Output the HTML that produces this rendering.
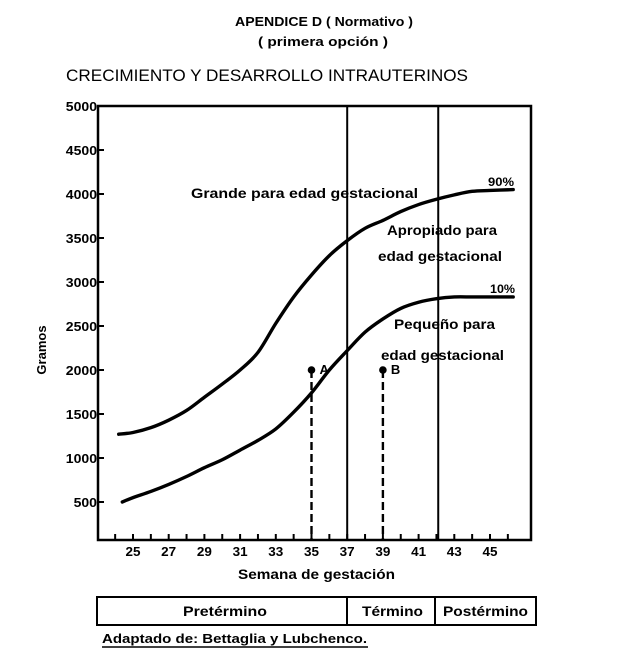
<!DOCTYPE html>
<html><head><meta charset="utf-8"><style>
body{margin:0;background:#fff;}
svg text{font-family:"Liberation Sans",Arial,sans-serif;font-weight:bold;fill:#000;}
</style></head><body>
<svg id="chart" width="640" height="655" viewBox="0 0 640 655" xmlns="http://www.w3.org/2000/svg">
<text x="235" y="26" font-size="13" textLength="178" lengthAdjust="spacingAndGlyphs">APENDICE D ( Normativo )</text>
<text x="258" y="46" font-size="13" textLength="130" lengthAdjust="spacingAndGlyphs">( primera opción )</text>
<text x="66" y="81" font-size="17" style="font-weight:normal" textLength="402" lengthAdjust="spacingAndGlyphs">CRECIMIENTO Y DESARROLLO INTRAUTERINOS</text>
<rect x="98" y="106" width="433" height="434" fill="none" stroke="#000" stroke-width="2.5"/>
<g id="ticks"></g>
<g id="marks"></g>
<text transform="translate(46,350) rotate(-90)" font-size="13" text-anchor="middle">Gramos</text>
<text x="238" y="579" font-size="14" textLength="157" lengthAdjust="spacingAndGlyphs">Semana de gestación</text>
<text x="191" y="198" font-size="14" textLength="227" lengthAdjust="spacingAndGlyphs">Grande para edad gestacional</text>
<text x="387" y="235" font-size="14" textLength="110" lengthAdjust="spacingAndGlyphs">Apropiado para</text>
<text x="378" y="261" font-size="14" textLength="124" lengthAdjust="spacingAndGlyphs">edad gestacional</text>
<text x="394" y="329" font-size="14" textLength="101" lengthAdjust="spacingAndGlyphs">Pequeño para</text>
<text x="381" y="360" font-size="14" textLength="123" lengthAdjust="spacingAndGlyphs">edad gestacional</text>
<text x="488" y="186" font-size="12" textLength="26" lengthAdjust="spacingAndGlyphs">90%</text>
<text x="490" y="293" font-size="12" textLength="25" lengthAdjust="spacingAndGlyphs">10%</text>
<rect x="97" y="597" width="439" height="28" fill="none" stroke="#000" stroke-width="2"/>
<line x1="347" y1="597" x2="347" y2="625" stroke="#000" stroke-width="2"/>
<line x1="435" y1="597" x2="435" y2="625" stroke="#000" stroke-width="2"/>
<text x="183" y="616" font-size="14" textLength="84" lengthAdjust="spacingAndGlyphs">Pretérmino</text>
<text x="362" y="616" font-size="14" textLength="61" lengthAdjust="spacingAndGlyphs">Término</text>
<text x="443" y="616" font-size="14" textLength="85" lengthAdjust="spacingAndGlyphs">Postérmino</text>
<text x="102" y="643" font-size="13" textLength="265" lengthAdjust="spacingAndGlyphs">Adaptado de: Bettaglia y Lubchenco.</text>
<line x1="102" y1="647" x2="368" y2="647" stroke="#000" stroke-width="1.5"/>
</svg>
<script>
const yTicks=[500,1000,1500,2000,2500,3000,3500,4000,4500,5000];
const xTickLabels=[25,27,29,31,33,35,37,39,41,43,45];
const weeks90=[24.2,25,26,27,28,29,30,31,32,33,34,35,36,37,38,39,40,41,42,43,44,45,46.3];
const p90=[1270,1290,1345,1430,1540,1690,1840,2000,2200,2530,2830,3080,3300,3470,3610,3700,3800,3880,3940,3990,4030,4040,4050];
const weeks10=[24.4,25,26,27,28,29,30,31,32,33,34,35,36,37,38,39,40,41,42,43,44,45,46.3];
const p10=[500,550,620,700,790,890,980,1090,1200,1330,1520,1740,2000,2220,2430,2580,2700,2770,2810,2830,2830,2830,2830];
const termLines=[37,42.1];
const pointWeeks=[35,39];
const pointValues=[2000,2000];
const pointLabels=['A','B'];
const NS='http://www.w3.org/2000/svg';
const X=w=>133+(w-25)*17.85;
const Y=v=>546-v*0.088;
function mk(tag,attrs,parent){const e=document.createElementNS(NS,tag);for(const k in attrs)e.setAttribute(k,attrs[k]);parent.appendChild(e);return e;}
const ticks=document.getElementById('ticks'),marks=document.getElementById('marks');
yTicks.forEach(v=>{
  const s=String(v);
  const t=mk('text',{x:97-(s.length*7.8),y:Y(v)+5,'font-size':13,textLength:s.length*7.8,lengthAdjust:'spacingAndGlyphs'},ticks);
  
  
  t.textContent=v;
  const l=mk('line',{x1:98,x2:104,y1:Y(v),y2:Y(v),stroke:'#000','stroke-width':2},ticks);
  
  
});
for(let w=24;w<=46;w++){
  const l=mk('line',{x1:X(w),x2:X(w),y1:534,y2:540,stroke:'#000','stroke-width':2},ticks);
  
  
}
xTickLabels.forEach(w=>{
  const t=mk('text',{x:X(w)-7.5,y:556,'font-size':13,textLength:15,lengthAdjust:'spacingAndGlyphs'},ticks);
  
  
  t.textContent=w;
});
termLines.forEach(w=>{
  const l=mk('line',{x1:X(w),x2:X(w),y1:106,y2:540,stroke:'#000','stroke-width':2},marks);
  
  
});
function curve(ws,vs,name){
  const pts=ws.map((w,i)=>[X(w),Y(vs[i])]);
  let d='M'+pts[0][0]+','+pts[0][1];
  for(let i=0;i<pts.length-1;i++){
    const p0=pts[Math.max(0,i-1)],p1=pts[i],p2=pts[i+1],p3=pts[Math.min(pts.length-1,i+2)];
    const c1=[p1[0]+(p2[0]-p0[0])/6,p1[1]+(p2[1]-p0[1])/6],c2=[p2[0]-(p3[0]-p1[0])/6,p2[1]-(p3[1]-p1[1])/6];
    d+=' C'+c1+' '+c2+' '+p2;
  }
  const p=mk('path',{d:d,fill:'none',stroke:'#000','stroke-width':3.4,'stroke-linecap':'round'},marks);
  
  
}
curve(weeks90,p90,'percentile-90-curve');
curve(weeks10,p10,'percentile-10-curve');
pointWeeks.forEach((w,i)=>{
  const l=mk('line',{x1:X(w),x2:X(w),y1:Y(pointValues[i]),y2:540,stroke:'#000','stroke-width':2.4,'stroke-dasharray':'8,4'},marks);
  
  
  const c=mk('circle',{cx:X(w),cy:Y(pointValues[i]),r:3.8,fill:'#000'},marks);
  
  
  const t=mk('text',{x:X(w)+8,y:Y(pointValues[i])+4,'font-size':13},marks);
  
  
  t.textContent=pointLabels[i];
});
</script>
</body></html>
